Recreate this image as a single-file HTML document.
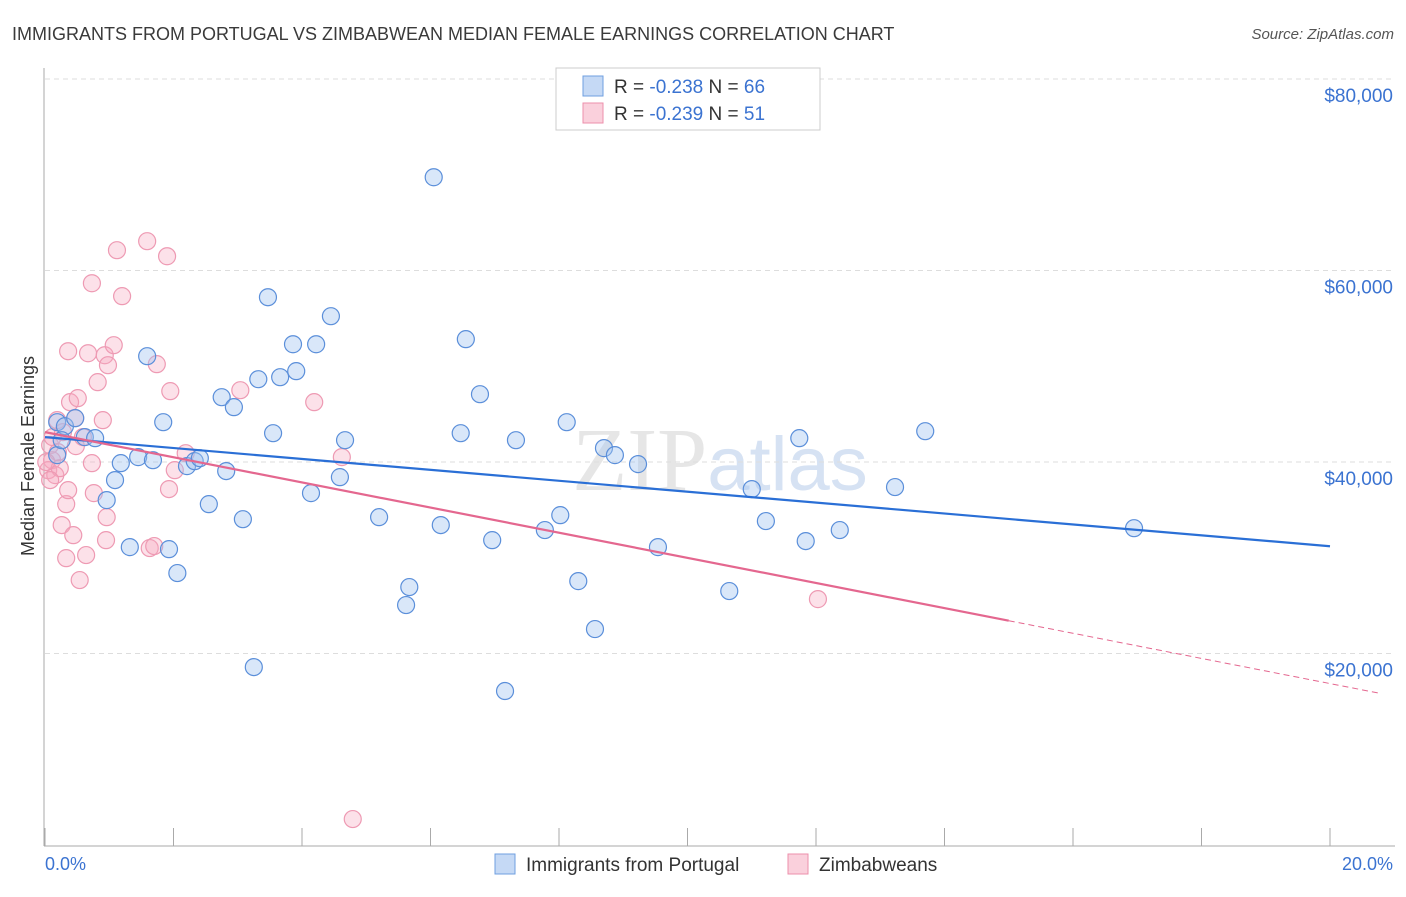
<!DOCTYPE html>
<html><head><meta charset="utf-8"><style>
body{margin:0;background:#fff;font-family:"Liberation Sans",sans-serif}
</style></head><body>
<svg id="chart" width="1406" height="892" xmlns="http://www.w3.org/2000/svg" font-family="Liberation Sans, sans-serif">
<text x="12" y="40" font-size="18" fill="#3a3a3a">IMMIGRANTS FROM PORTUGAL VS ZIMBABWEAN MEDIAN FEMALE EARNINGS CORRELATION CHART</text>
<text x="1394" y="39" font-size="15" fill="#555" text-anchor="end" font-style="italic">Source: ZipAtlas.com</text>
<text x="720" y="490" font-size="90" fill="#e6e6e6" text-anchor="middle" font-family="Liberation Serif, serif">ZIP<tspan fill="#d6e2f3" font-family="Liberation Sans, sans-serif" font-size="76">atlas</tspan></text>
<g id="grid"></g><g id="axes"></g><g id="pts"></g><g id="lines"></g>
<text transform="translate(34,456) rotate(-90)" font-size="18" fill="#333" text-anchor="middle">Median Female Earnings</text>
<text x="45" y="870" font-size="18" fill="#3b73d1">0.0%</text>
<text x="1393" y="870" font-size="18" fill="#3b73d1" text-anchor="end">20.0%</text>
<g>
<rect x="556" y="68" width="264" height="62" fill="#fff" stroke="#ccc"/>
<rect x="583" y="76" width="20" height="20" fill="#c5d9f5" stroke="#6f9fe0"/>
<rect x="583" y="103" width="20" height="20" fill="#fad0dc" stroke="#ec8fab"/>
<text x="614" y="93" font-size="19" fill="#333">R = <tspan fill="#3b73d1">-0.238</tspan>   N = <tspan fill="#3b73d1">66</tspan></text>
<text x="614" y="120" font-size="19" fill="#333">R = <tspan fill="#3b73d1">-0.239</tspan>   N = <tspan fill="#3b73d1"> 51</tspan></text>
</g>
<g>
<rect x="495" y="854" width="20" height="20" fill="#c5d9f5" stroke="#6f9fe0"/>
<text x="526" y="871" font-size="19" fill="#333">Immigrants from Portugal</text>
<rect x="788" y="854" width="20" height="20" fill="#fad0dc" stroke="#ec8fab"/>
<text x="819" y="871" font-size="19" fill="#333">Zimbabweans</text>
</g>
</svg>
<script>
const blueX=[0.19,0.31,0.47,0.62,0.78,0.96,1.09,1.18,1.32,1.45,1.59,1.68,1.84,1.93,2.06,2.21,2.33,2.41,2.55,2.75,2.82,2.94,3.08,3.25,3.32,3.47,3.55,3.66,3.86,3.91,4.14,4.22,4.45,4.59,4.67,5.20,5.62,5.67,6.05,6.16,6.47,6.55,6.77,6.96,7.16,7.33,7.78,8.02,8.12,8.30,8.56,8.70,8.87,9.23,9.54,10.65,11.00,11.22,11.74,11.84,12.37,13.23,13.70,16.95,0.19,0.26];
const blueY=[44160,43740,44580,42600,42490,36020,38110,39880,31110,40510,51050,40190,44160,30900,28400,39570,40090,40400,35600,46770,39050,45730,34030,18580,48650,57210,43010,48860,52300,49490,36750,52300,55230,38420,42280,34240,25060,26940,69740,33410,43010,52830,47080,31840,16080,42280,32890,34450,44160,27560,22550,41450,40720,39780,31110,26520,37170,33830,42490,31740,32890,37380,43220,33090,40720,42280];
const pinkX=[0.08,0.11,0.05,0.16,0.12,0.23,0.20,0.26,0.33,0.33,0.36,0.36,0.39,0.44,0.47,0.48,0.51,0.54,0.64,0.67,0.73,0.76,0.73,0.82,0.90,0.93,0.96,0.98,0.95,1.07,1.12,1.20,1.59,1.63,1.70,1.74,1.90,1.93,1.95,2.02,2.19,3.04,4.19,4.62,4.79,12.03,0.02,0.08,0.19,0.28,0.59];
const pinkY=[41760,40190,39150,38630,42600,39360,41030,33410,35600,29960,37060,51570,46250,32360,44580,41660,46670,27670,30280,51360,39880,36750,58670,48340,44370,51150,34240,50110,31840,52200,62120,57320,63060,31010,31220,50220,61490,37170,47400,39150,40920,47500,46250,40510,2710,25680,39990,38110,44370,43120,42600];
const yTicks=[20000,40000,60000,80000];
const yTickLabels=["$20,000","$40,000","$60,000","$80,000"];
const xTicks=[0,2,4,6,8,10,12,14,16,18,20];
const blueFit=[42600,-570];
const pinkFit=[43120,-1313];
const pinkSolidEnd=15.0, pinkDashEnd=20.8;

const NS="http://www.w3.org/2000/svg";
const X=v=>45+v*64.25, Y=v=>845-v*0.009575;
function mk(t,a,p){const e=document.createElementNS(NS,t);for(const k in a)e.setAttribute(k,a[k]);p.appendChild(e);return e;}
const grid=document.getElementById('grid'),axes=document.getElementById('axes'),pts=document.getElementById('pts'),lines=document.getElementById('lines');
yTicks.forEach((t,i)=>{
 const l=mk('line',{x1:45,x2:1395,y1:Y(t),y2:Y(t),stroke:'#ddd','stroke-dasharray':'5,4'},grid);
 
 
 const tx=mk('text',{x:1393,y:Y(t)+23,'font-size':19,fill:'#3b73d1','text-anchor':'end'},axes);
 tx.textContent=yTickLabels[i];
 
 
});
const ax=mk('line',{x1:44,x2:44,y1:68,y2:846,stroke:'#aaa'},axes);


const bx=mk('line',{x1:44,x2:1395,y1:846,y2:846,stroke:'#aaa'},axes);


xTicks.forEach(t=>{
 const l=mk('line',{x1:X(t),x2:X(t),y1:828,y2:846,stroke:'#aaa'},axes);
 
 
});
pinkX.forEach((x,i)=>{
 const c=mk('circle',{cx:X(x),cy:Y(pinkY[i]),r:8.5,fill:'rgba(246,168,192,0.35)',stroke:'#ee9ab3','stroke-width':1.2},pts);
 
 
});
blueX.forEach((x,i)=>{
 const c=mk('circle',{cx:X(x),cy:Y(blueY[i]),r:8.5,fill:'rgba(160,196,240,0.4)',stroke:'#5b8fda','stroke-width':1.2},pts);
 
 
});
const f=(fit,x)=>fit[0]+fit[1]*x;
const bl=mk('line',{x1:X(0),y1:Y(f(blueFit,0)),x2:X(20),y2:Y(f(blueFit,20)),stroke:'#2a6fd6','stroke-width':2.2},lines);


const pl=mk('line',{x1:X(0),y1:Y(f(pinkFit,0)),x2:X(pinkSolidEnd),y2:Y(f(pinkFit,pinkSolidEnd)),stroke:'#e4678f','stroke-width':2.2},lines);


const pd=mk('line',{x1:X(pinkSolidEnd),y1:Y(f(pinkFit,pinkSolidEnd)),x2:X(pinkDashEnd),y2:Y(f(pinkFit,pinkDashEnd)),stroke:'#e4678f','stroke-width':1,'stroke-dasharray':'6,4'},lines);


</script>
</body></html>
